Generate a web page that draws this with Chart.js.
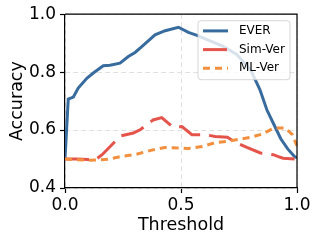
<!DOCTYPE html>
<html>
<head>
<meta charset="utf-8">
<script src="https://cdn.jsdelivr.net/npm/chart.js@4.4.0/dist/chart.umd.min.js"></script>
<style>
  html, body { margin: 0; padding: 0; background: #fff; }
  canvas { display: block; }
</style>
</head>
<body>
<canvas id="acc-chart" width="319" height="241"></canvas>
<script>
// values
const seriesNames = ['EVER', 'Sim-Ver', 'ML-Ver'];
const everX = [0, 0.014, 0.036, 0.057, 0.094, 0.122, 0.165, 0.194, 0.237, 0.273, 0.302, 0.331, 0.388, 0.432, 0.489, 0.532, 0.575, 0.62, 0.68, 0.74, 0.80, 0.84, 0.87, 0.90, 0.93, 0.96, 0.99, 1.0];
const everY = [0.50, 0.707, 0.714, 0.745, 0.779, 0.797, 0.822, 0.824, 0.831, 0.854, 0.868, 0.888, 0.929, 0.943, 0.955, 0.937, 0.925, 0.91, 0.89, 0.861, 0.808, 0.74, 0.67, 0.62, 0.57, 0.535, 0.508, 0.505];
const simX = [0, 0.05, 0.10, 0.13, 0.16, 0.24, 0.295, 0.324, 0.38, 0.417, 0.467, 0.504, 0.547, 0.604, 0.647, 0.70, 0.741, 0.784, 0.842, 0.898, 0.928, 0.94, 1.0];
const simY = [0.50, 0.50, 0.498, 0.497, 0.515, 0.58, 0.59, 0.601, 0.635, 0.643, 0.609, 0.612, 0.584, 0.584, 0.578, 0.575, 0.555, 0.540, 0.521, 0.515, 0.506, 0.503, 0.50];
const mlX = [0, 0.05, 0.10, 0.15, 0.19, 0.25, 0.30, 0.37, 0.43, 0.49, 0.53, 0.59, 0.65, 0.70, 0.80, 0.85, 0.90, 0.95, 0.98, 1.0];
const mlY = [0.50, 0.498, 0.496, 0.497, 0.50, 0.51, 0.515, 0.53, 0.54, 0.538, 0.536, 0.543, 0.557, 0.561, 0.575, 0.586, 0.607, 0.607, 0.584, 0.545];
const xTicks = [0, 0.5, 1.0];
const yTicks = [0.4, 0.6, 0.8, 1.0];

const FONT = 'DejaVu Sans';
const pts = (xs, ys) => xs.map((x, i) => ({x: x, y: ys[i]}));

// matplotlib-ish frame on top/right + legend box inside the axes
const frameAndLegend = {
  id: 'frameAndLegend',
  afterDraw(chart) {
    const ctx = chart.ctx;
    const a = chart.chartArea;
    ctx.save();
    ctx.strokeStyle = '#000';
    ctx.lineWidth = 1.2;
    ctx.beginPath();
    ctx.moveTo(a.left, a.top);
    ctx.lineTo(a.right, a.top);
    ctx.lineTo(a.right, a.bottom);
    ctx.stroke();

    const w = 92, h = 59;
    const x0 = a.right - 7 - w, y0 = a.top + 6.5;
    ctx.beginPath();
    ctx.roundRect(x0, y0, w, h, 3);
    ctx.fillStyle = 'rgba(255,255,255,0.8)';
    ctx.fill();
    ctx.strokeStyle = 'rgba(204,204,204,0.8)';
    ctx.lineWidth = 1;
    ctx.stroke();

    ctx.font = '12px "' + FONT + '"';
    ctx.textBaseline = 'middle';
    ctx.textAlign = 'left';
    chart.data.datasets.forEach((ds, i) => {
      const y = y0 + 10.2 + i * 18.7;
      ctx.beginPath();
      ctx.setLineDash(ds.borderDash || []);
      ctx.strokeStyle = ds.borderColor;
      ctx.lineWidth = 3;
      ctx.moveTo(x0 + 5, y);
      ctx.lineTo(x0 + 30, y);
      ctx.stroke();
      ctx.setLineDash([]);
      ctx.fillStyle = '#000';
      ctx.fillText(ds.label, x0 + 41, y);
    });
    ctx.restore();
  }
};

const ctx = document.getElementById('acc-chart').getContext('2d');
const accChart = new Chart(ctx, {
  type: 'line',
  data: {
    datasets: [
      {label: seriesNames[0], data: pts(everX, everY), borderColor: '#386c9e', borderWidth: 3, order: 3},
      {label: seriesNames[1], data: pts(simX, simY), borderColor: '#e5544b', borderWidth: 3, borderDash: [24, 9], order: 2},
      {label: seriesNames[2], data: pts(mlX, mlY), borderColor: '#f2903f', borderWidth: 3, borderDash: [7, 5], order: 1}
    ]
  },
  options: {
    responsive: false,
    animation: false,
    devicePixelRatio: 1,
    layout: {padding: {top: 14, right: 22, left: 0, bottom: 0}},
    elements: {point: {radius: 0}, line: {tension: 0, fill: false}},
    plugins: {legend: {display: false}, tooltip: {enabled: false}},
    scales: {
      x: {
        type: 'linear',
        min: 0,
        max: 1,
        afterBuildTicks: s => { s.ticks = xTicks.map(v => ({value: v})); },
        afterFit: s => { s.height = 53; },
        ticks: {color: '#000', font: {family: FONT, size: 17}, padding: 2, maxRotation: 0,
          callback: v => v.toFixed(1)},
        grid: {color: '#e0e0e0', lineWidth: 1, tickLength: 5, tickColor: '#000', tickWidth: 1.2, tickBorderDash: []},
        border: {color: '#000', width: 1.2, dash: [5, 3]},
        title: {display: true, text: 'Threshold', color: '#000', font: {family: FONT, size: 17.5},
          padding: {top: 0, bottom: 5}}
      },
      y: {
        type: 'linear',
        min: 0.4,
        max: 1.0,
        afterBuildTicks: s => { s.ticks = yTicks.map(v => ({value: v})); },
        afterFit: s => { s.width = 65; },
        ticks: {color: '#000', font: {family: FONT, size: 17}, padding: 4,
          callback: v => v.toFixed(1)},
        grid: {color: '#e0e0e0', lineWidth: 1, tickLength: 5, tickColor: '#000', tickWidth: 1.2, tickBorderDash: []},
        border: {color: '#000', width: 1.2, dash: [5, 3]},
        title: {display: true, text: 'Accuracy', color: '#000', font: {family: FONT, size: 17.5},
          padding: {top: 7, bottom: 0}}
      }
    }
  },
  plugins: [frameAndLegend]
});
</script>
</body>
</html>
